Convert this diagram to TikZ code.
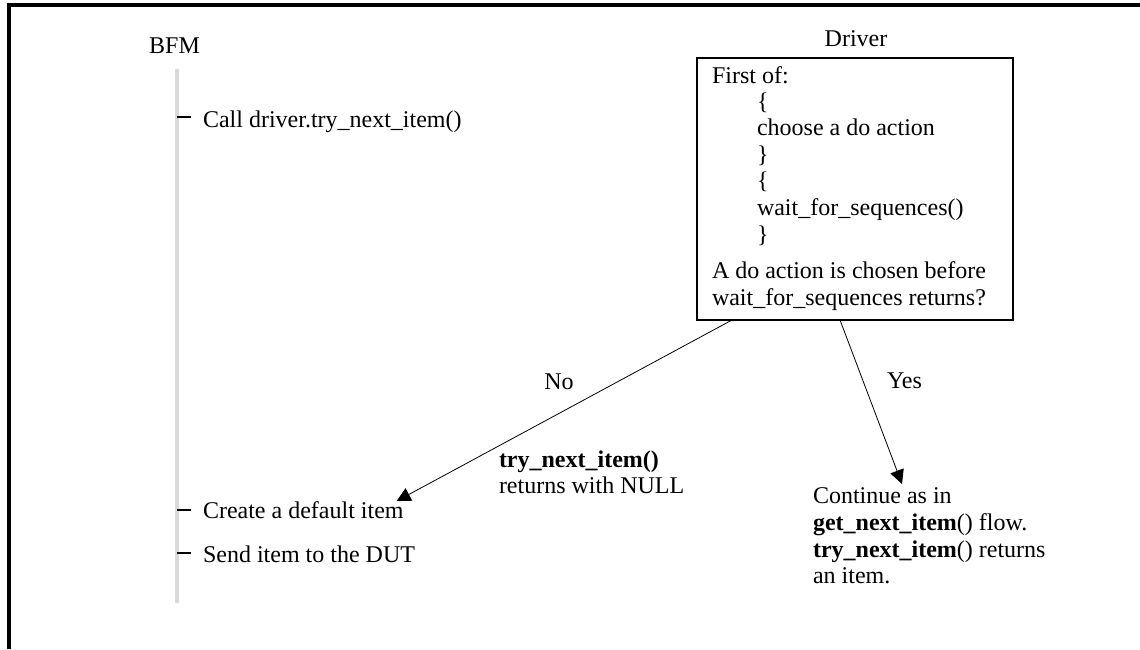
\documentclass[tikz,border=0pt]{standalone}
\usepackage{fontspec}
\setmainfont{Liberation Serif}
\usetikzlibrary{arrows.meta,calc}
\definecolor{lifegray}{HTML}{D9D9D9}
\begin{document}
\begin{tikzpicture}[x=0.5pt,y=-0.5pt,
  every node/.style={inner sep=0pt,outer sep=0pt,font=\fontsize{12}{13.3}\selectfont},
  txt/.style={anchor=base west},
  ctr/.style={anchor=base},
  tickline/.style={line width=1pt},
  framel/.style={line width=2pt},
  life/.style={line width=2pt,draw=lifegray},
  conn/.style={line width=0.4pt,-{Triangle[length=7pt,width=7pt]}},
  boxst/.style={draw,line width=1pt,minimum width=158pt,minimum height=131pt,anchor=north west}]
\useasboundingbox (0,0) rectangle (1140,649);
% outer frame
\draw[framel] (9,649) -- (9,5) -- (1140,5);
% BFM lifeline
\node[ctr] (bfm) at (174.5,53) {BFM};
\draw[life] (177,69) -- (177,603);
\draw[tickline] (177,117) -- (191,117);
\draw[tickline] (177,510) -- (191,510);
\draw[tickline] (177,553) -- (191,553);
\node[txt] (call) at (203,127) {Call driver.try\_next\_item()};
\node[txt] (create) at (203,518) {Create a default item};
\node[txt] (send) at (203,562) {Send item to the DUT};
% Driver
\node[ctr] (drvlabel) at (856,46) {Driver};
\node[boxst] (drv) at (697,58) {};
\node[txt] (d1) at (712,83) {First of:};
\node[txt] (d2) at (757,109) {\{};
\node[txt] (d3) at (757,135) {choose a do action};
\node[txt] (d4) at (757,162) {\}};
\node[txt] (d5) at (757,188) {\{};
\node[txt] (d6) at (757,215) {wait\_for\_sequences()};
\node[txt] (d7) at (757,242) {\}};
\node[txt] (d8) at (712,278) {A do action is chosen before};
\node[txt] (d9) at (712,305) {wait\_for\_sequences returns?};
% No branch
\node[ctr] (no) at (559,389) {No};
\node[txt] (tn1) at (499,467) {\textbf{try\_next\_item()}};
\node[txt] (tn2) at (499,493) {returns with NULL};
% Yes branch
\node[ctr] (yes) at (904.5,388) {Yes};
\node[txt] (c1) at (813,503) {Continue as in};
\node[txt] (c2) at (813,530) {\textbf{get\_next\_item}() flow.};
\node[txt] (c3) at (813,557) {\textbf{try\_next\_item}() returns};
\node[txt] (c4) at (813,583) {an item.};
% connectors
\coordinate (noS) at ($(drv.south west)+(35,0)$);
\coordinate (noE) at ($(create.north east)+(-7,0)$);
\coordinate (yesS) at ($(drv.south west)+(143,0)$);
\coordinate (yesE) at (902,484);
\draw[conn] (noS) -- (noE);
\draw[conn] (yesS) -- (yesE);
\end{tikzpicture}
\end{document}
